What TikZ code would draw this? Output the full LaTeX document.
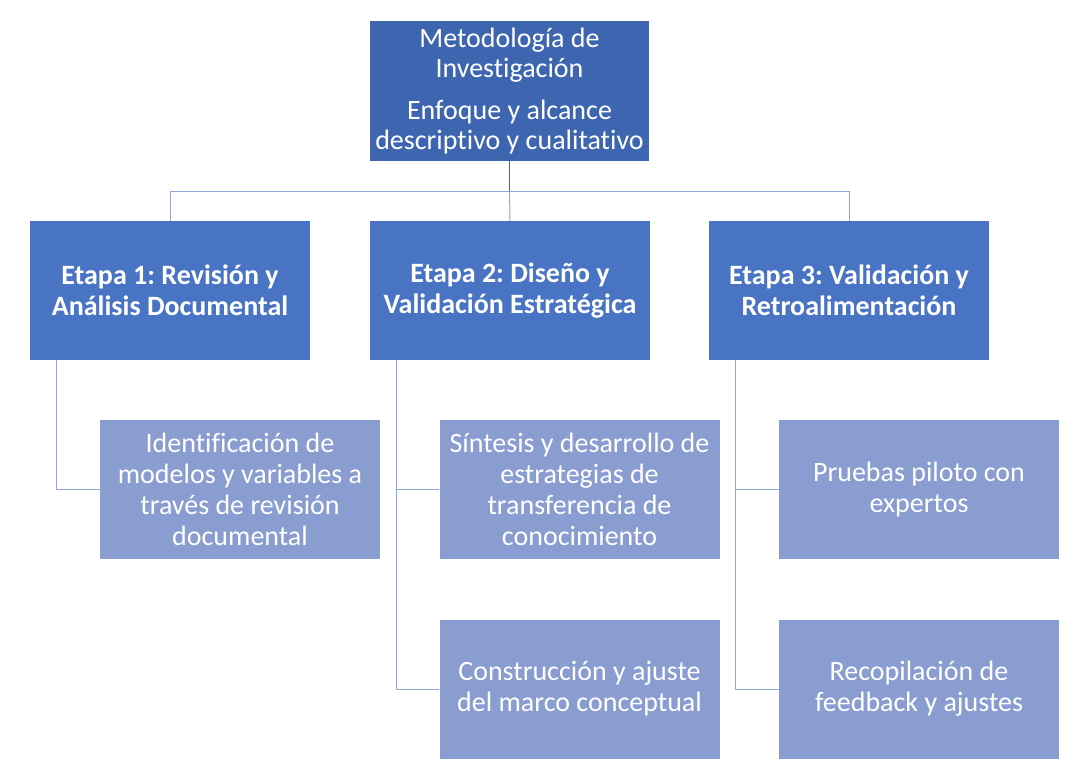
\documentclass[tikz,border=0pt]{standalone}
\usepackage{fontspec}
\setmainfont[Ligatures=NoCommon]{Carlito}
\frenchspacing
\definecolor{topblue}{HTML}{3E66B0}
\definecolor{stageblue}{HTML}{4874C3}
\definecolor{subblue}{HTML}{8A9DD1}
\definecolor{linelight}{HTML}{8EA8DA}
\begin{document}
\begin{tikzpicture}[x=1pt,y=-1pt]
\tikzset{
  basebox/.style={draw=none, text=white, align=center, inner sep=0pt, minimum width=280pt, minimum height=139pt, font=\fontsize{28}{30.5}\selectfont},
  topbox/.style={basebox, fill=topblue, minimum width=279pt, minimum height=140pt},
  stagebox/.style={basebox, fill=stageblue, font=\fontsize{28}{31}\selectfont\bfseries},
  subbox/.style={basebox, fill=subblue, font=\fontsize{28}{31}\selectfont},
  conn/.style={draw=linelight, line width=1pt},
  stem/.style={draw=topblue, line width=1pt}
}
\useasboundingbox (0,0) rectangle (1086,780);
\node[topbox] (top) at (509.5,91) {Metodología de\\Investigación\\[11pt]Enfoque y alcance\\descriptivo y cualitativo};
\node[stagebox] (s1) at (170,290.5) {Etapa 1: Revisión y\\Análisis Documental};
\node[stagebox] (s2) at (510,290.5) {Etapa 2: Diseño y\\Validación Estratégica};
\node[stagebox] (s3) at (849,290.5) {Etapa 3: Validación y\\Retroalimentación};
\node[subbox] (c1) at (240,489.5) {Identificación de\\modelos y variables a\\través de revisión\\documental};
\node[subbox] (c21) at (579.5,489.5) {Síntesis y desarrollo de\\estrategias de\\transferencia de\\conocimiento};
\node[subbox] (c22) at (579.5,689) {Construcción y ajuste\\del marco conceptual};
\node[subbox] (c31) at (919,489.5) {Pruebas piloto con\\expertos};
\node[subbox] (c32) at (919,689) {Recopilación de\\feedback y ajustes};
% connectors
\coordinate (bus) at (509.5,191);
\draw[stem] (top.south) -- (bus);
\draw[conn] (s1.north) -- ++(0,-29.5) -| (s3.north);
\draw[conn] (bus) -- (s2.north);
\draw[conn] ([xshift=27pt]s1.south west) |- (c1.west);
\draw[conn] ([xshift=27pt]s2.south west) |- (c21.west);
\draw[conn] ([xshift=27pt]s2.south west) |- (c22.west);
\draw[conn] ([xshift=27pt]s3.south west) |- (c31.west);
\draw[conn] ([xshift=27pt]s3.south west) |- (c32.west);
\end{tikzpicture}
\end{document}
